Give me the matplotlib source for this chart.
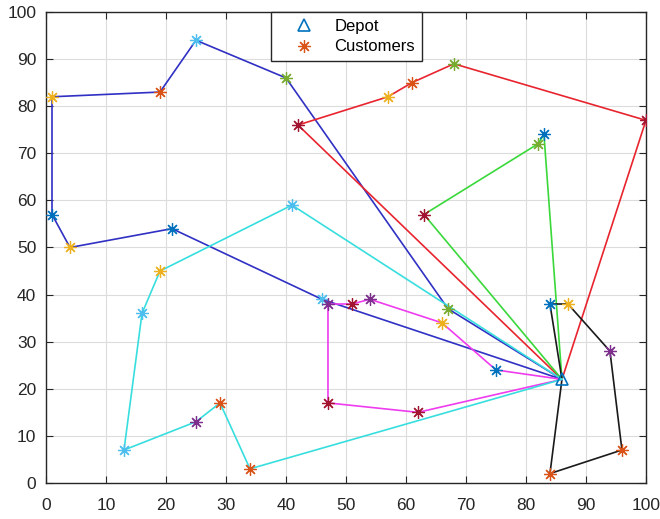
import matplotlib
matplotlib.use('Agg')
import matplotlib.pyplot as plt
from matplotlib.lines import Line2D

plt.rcParams['font.family'] = ['Liberation Sans', 'DejaVu Sans']

# depot and customer locations
depot_x = 86
depot_y = 22
cust_x = [1, 19, 25, 40, 42, 1, 4, 21, 41, 19, 16, 46, 47, 29, 25, 13, 34,
          57, 61, 68, 100, 83, 82, 63, 51, 54, 67, 66, 75, 62, 47, 84, 87, 94, 96, 84]
cust_y = [82, 83, 94, 86, 76, 57, 50, 54, 59, 45, 36, 39, 38, 17, 13, 7, 3,
          82, 85, 89, 77, 74, 72, 57, 38, 39, 37, 34, 24, 15, 17, 38, 38, 28, 7, 2]

# vehicle routes (customer indices, depot at both ends)
route_blue = [26, 3, 2, 1, 0, 5, 6, 7, 11]
route_red = [20, 19, 18, 17, 4]
route_green = [23, 22, 21]
route_black = [31, 32, 33, 34, 35]
route_magenta = [28, 27, 25, 24, 12, 30, 29]
route_cyan = [16, 13, 14, 15, 10, 9, 8]

routes = [route_blue, route_red, route_green, route_black, route_magenta, route_cyan]
route_colors = ['#3030C4', '#E8242E', '#3AD83A', '#1A1A1A', '#EE3CEE', '#38DEDE']

# matlab default colour order, index per customer marker
mcolors = ['#0072BD', '#D95319', '#EDB120', '#7E2F8E', '#77AC30', '#4DBEEE', '#A2142F']
cust_color_idx = [2, 1, 5, 4, 6, 0, 2, 0, 5, 2, 5, 5, 3, 1, 3, 5, 1,
                  2, 1, 4, 6, 0, 4, 6, 6, 3, 4, 2, 0, 6, 6, 0, 2, 3, 1, 1]

asterisk = (8, 2, 0)

fig = plt.figure(figsize=(6.6, 5.19), dpi=100)
ax = fig.add_axes([0.0697, 0.0694, 0.909, 0.9075])

for r, col in zip(routes, route_colors):
    xs = [depot_x] + [cust_x[i] for i in r] + [depot_x]
    ys = [depot_y] + [cust_y[i] for i in r] + [depot_y]
    ax.plot(xs, ys, color=col, lw=1.2, zorder=2)

for i in range(len(cust_x)):
    ax.plot(cust_x[i], cust_y[i], linestyle='none', marker=asterisk, ms=9,
            mec=mcolors[cust_color_idx[i]], mew=0.9, zorder=3)

ax.plot(depot_x, depot_y, linestyle='none', marker='^', ms=8, mfc='none',
        mec='#0072BD', mew=1.2, zorder=4)

ax.set_xlim(0, 100)
ax.set_ylim(0, 100)
ax.set_xticks(range(0, 101, 10))
ax.set_yticks(range(0, 101, 10))
ax.grid(True, color='#DCDCDC', lw=0.8)
ax.set_axisbelow(True)
ax.tick_params(direction='in', top=True, right=True, labelsize=12.5,
               colors='#262626', length=5)
ax.tick_params(axis='x', pad=11)
ax.tick_params(axis='y', pad=7)
for s in ax.spines.values():
    s.set_color('#262626')
    s.set_linewidth(1.0)

handles = [Line2D([], [], linestyle='none', marker='^', ms=8, mfc='none', mec='#0072BD', mew=1.2),
           Line2D([], [], linestyle='none', marker=asterisk, ms=9, mec='#D95319', mew=0.9)]
leg = ax.legend(handles, ['Depot', 'Customers'], loc='upper left', bbox_to_anchor=(0.375, 1.0),
                borderaxespad=0, fontsize=12, fancybox=False, framealpha=1,
                edgecolor='#262626', handlelength=3.2, handletextpad=0.2,
                borderpad=0.4, labelspacing=0.35)
leg.get_frame().set_linewidth(1.0)

fig.savefig('out.png', dpi=100)
